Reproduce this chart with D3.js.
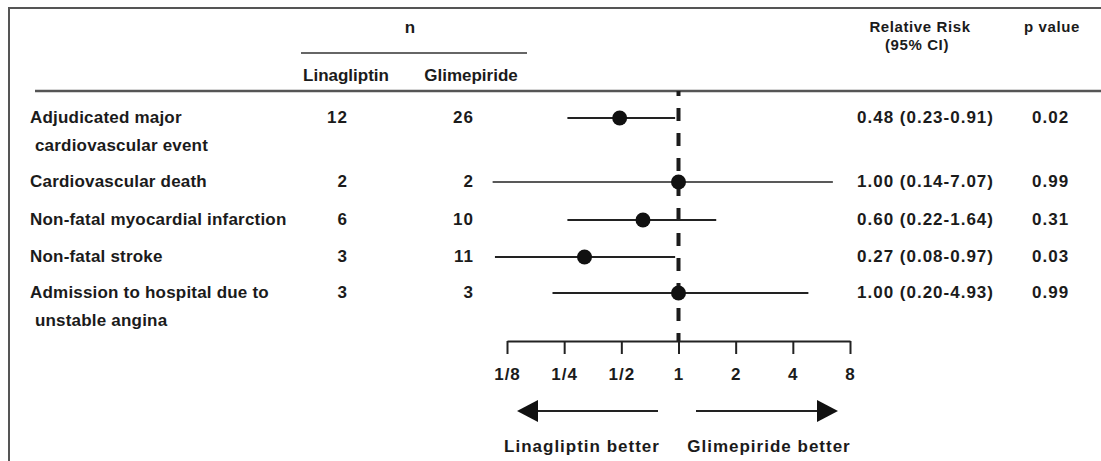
<!DOCTYPE html>
<html>
<head>
  <meta charset="UTF-8">
  <title>Forest plot</title>
  <script src="https://d3js.org/d3.v7.min.js"></script>
  <style>
    body { margin: 0; background: #fff; }
    svg { display: block; }
    text { font-family: "Liberation Sans", Arial, sans-serif; font-weight: bold; font-size: 17px; fill: #1b1b1b; }
    .num { letter-spacing: 1px; }
    .head { font-size: 15px; }
    .axis text { font-family: "Liberation Sans", Arial, sans-serif; font-weight: bold; font-size: 17px; fill: #1b1b1b; letter-spacing: 1px; }
    .axis path, .axis line { stroke: #222; stroke-width: 2; }
  </style>
</head>
<body>
  <svg width="1101" height="461"></svg>
  <script>
    // rows of the table
    var outcomes = [
      ["Adjudicated major", " cardiovascular event"],
      ["Cardiovascular death"],
      ["Non-fatal myocardial infarction"],
      ["Non-fatal stroke"],
      ["Admission to hospital due to", " unstable angina"]
    ]
    var nLina = [12, 2, 6, 3, 3]
    var nGlim = [26, 2, 10, 11, 3]
    var rrText = ["0.48 (0.23-0.91)", "1.00 (0.14-7.07)", "0.60 (0.22-1.64)", "0.27 (0.08-0.97)", "1.00 (0.20-4.93)"]
    var pText = ["0.02", "0.99", "0.31", "0.03", "0.99"]

    // plotted values
    var rr = [0.49, 1.0, 0.65, 0.32, 1.0]
    var ciLo = [0.26, 0.105, 0.26, 0.108, 0.217]
    var ciHi = [0.96, 6.5, 1.58, 0.96, 4.83]

    var tickValues = [1/8, 1/4, 1/2, 1, 2, 4, 8]
    var tickLabels = ["1/8", "1/4", "1/2", "1", "2", "4", "8"]

    var svg = d3.select("svg")

    var rowY = [118, 182, 220, 257, 293]
    var axisY = 341

    var x = d3.scaleLog().base(2).domain([1/8, 8]).range([507, 850])

    // frame
    svg.append("line").attr("x1", 9).attr("x2", 1101).attr("y1", 8).attr("y2", 8)
      .attr("stroke", "#555").attr("stroke-width", 2)
    svg.append("line").attr("x1", 9).attr("x2", 9).attr("y1", 7).attr("y2", 461)
      .attr("stroke", "#555").attr("stroke-width", 2)
    svg.append("line").attr("x1", 35).attr("x2", 1101).attr("y1", 91).attr("y2", 91)
      .attr("stroke", "#555").attr("stroke-width", 2.5)

    // header
    svg.append("text").attr("x", 410).attr("y", 33).attr("text-anchor", "middle").text("n")
    svg.append("line").attr("x1", 301).attr("x2", 527).attr("y1", 53).attr("y2", 53)
      .attr("stroke", "#333").attr("stroke-width", 1.5)
    svg.append("text").attr("x", 346).attr("y", 81).attr("text-anchor", "middle").text("Linagliptin")
    svg.append("text").attr("x", 471).attr("y", 81).attr("text-anchor", "middle").text("Glimepiride")
    svg.append("text").attr("class", "head").attr("x", 920).attr("y", 32).attr("text-anchor", "middle")
      .attr("letter-spacing", 0.6).text("Relative Risk")
    svg.append("text").attr("class", "head").attr("x", 917).attr("y", 50).attr("text-anchor", "middle")
      .attr("letter-spacing", 0.6).text("(95% CI)")
    svg.append("text").attr("class", "head").attr("x", 1052).attr("y", 32).attr("text-anchor", "middle")
      .attr("letter-spacing", 0.6).text("p value")

    // row labels and numbers
    var rows = svg.append("g").selectAll("g")
      .data(outcomes)
      .enter().append("g")
      .attr("transform", function(d, i) { return "translate(0," + (rowY[i] + 5) + ")" })

    rows.each(function(d) {
      var g = d3.select(this)
      d.forEach(function(line, j) {
        g.append("text").attr("x", 30).attr("y", j * 28).attr("letter-spacing", 0.2)
          .attr("xml:space", "preserve").text(line)
      })
    })

    rows.append("text").attr("class", "num").attr("x", 348).attr("text-anchor", "end")
      .text(function(d, i) { return nLina[i] })
    rows.append("text").attr("class", "num").attr("x", 474).attr("text-anchor", "end")
      .text(function(d, i) { return nGlim[i] })
    rows.append("text").attr("class", "num").attr("x", 857)
      .text(function(d, i) { return rrText[i] })
    rows.append("text").attr("class", "num").attr("x", 1032)
      .text(function(d, i) { return pText[i] })

    // reference line at 1
    svg.append("line")
      .attr("x1", x(1)).attr("x2", x(1)).attr("y1", 91).attr("y2", axisY)
      .attr("stroke", "#1b1b1b").attr("stroke-width", 4)
      .attr("stroke-dasharray", "13,12").attr("stroke-dashoffset", 8)

    // confidence intervals
    svg.append("g").selectAll("line")
      .data(rr)
      .enter().append("line")
      .attr("x1", function(d, i) { return x(ciLo[i]) })
      .attr("x2", function(d, i) { return x(ciHi[i]) })
      .attr("y1", function(d, i) { return rowY[i] })
      .attr("y2", function(d, i) { return rowY[i] })
      .attr("stroke", "#222")
      .attr("stroke-width", function(d, i) { return i === 1 ? 1.3 : 2 })

    svg.append("g").selectAll("circle")
      .data(rr)
      .enter().append("circle")
      .attr("cx", function(d) { return x(d) })
      .attr("cy", function(d, i) { return rowY[i] })
      .attr("r", 7.5)
      .attr("fill", "#111")

    // axis
    svg.append("g")
      .attr("class", "axis")
      .attr("transform", "translate(0," + axisY + ")")
      .call(d3.axisBottom(x)
        .tickValues(tickValues)
        .tickFormat(function(d, i) { return tickLabels[i] })
        .tickSize(13)
        .tickSizeOuter(0)
        .tickPadding(14))

    // direction arrows
    var arrowY = 411
    svg.append("line").attr("x1", 537).attr("x2", 658).attr("y1", arrowY).attr("y2", arrowY)
      .attr("stroke", "#222").attr("stroke-width", 2)
    svg.append("path").attr("d", "M517," + arrowY + "L538," + (arrowY - 11) + "L538," + (arrowY + 11) + "Z")
      .attr("fill", "#111")
    svg.append("line").attr("x1", 696).attr("x2", 818).attr("y1", arrowY).attr("y2", arrowY)
      .attr("stroke", "#222").attr("stroke-width", 2)
    svg.append("path").attr("d", "M838," + arrowY + "L817," + (arrowY - 11) + "L817," + (arrowY + 11) + "Z")
      .attr("fill", "#111")

    svg.append("text").attr("class", "num").attr("x", 582).attr("y", 452).attr("text-anchor", "middle")
      .text("Linagliptin better")
    svg.append("text").attr("class", "num").attr("x", 769).attr("y", 452).attr("text-anchor", "middle")
      .text("Glimepiride better")
  </script>
</body>
</html>
